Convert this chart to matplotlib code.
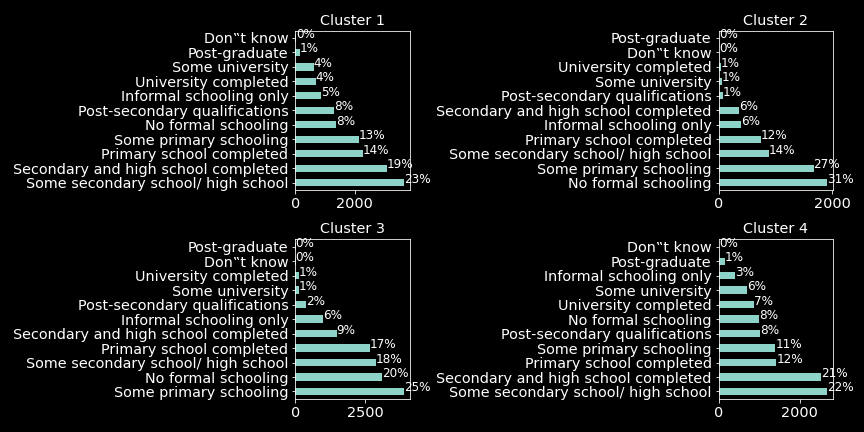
import matplotlib
matplotlib.use("Agg")
import matplotlib.pyplot as plt

plt.style.use("dark_background")
plt.rcParams["font.family"] = "DejaVu Sans"

DK = "Don\u201ft know"

# categories per cluster, in value_counts order (largest first)
cats_1 = ["Some secondary school/ high school", "Secondary and high school completed",
          "Primary school completed", "Some primary schooling", "No formal schooling",
          "Post-secondary qualifications", "Informal schooling only",
          "University completed", "Some university", "Post-graduate", DK]
counts_1 = [3687, 3100, 2270, 2136, 1360, 1293, 854, 686, 618, 146, 10]

cats_2 = ["No formal schooling", "Some primary schooling", "Some secondary school/ high school",
          "Primary school completed", "Informal schooling only",
          "Secondary and high school completed", "Post-secondary qualifications",
          "Some university", "University completed", DK, "Post-graduate"]
counts_2 = [1915, 1670, 885, 740, 390, 355, 80, 60, 38, 6, 4]

cats_3 = ["Some primary schooling", "No formal schooling", "Some secondary school/ high school",
          "Primary school completed", "Secondary and high school completed",
          "Informal schooling only", "Post-secondary qualifications",
          "Some university", "University completed", DK, "Post-graduate"]
counts_3 = [3903, 3118, 2868, 2654, 1476, 976, 369, 119, 115, 8, 6]

cats_4 = ["Some secondary school/ high school", "Secondary and high school completed",
          "Primary school completed", "Some primary schooling", "Post-secondary qualifications",
          "No formal schooling", "University completed", "Some university",
          "Informal schooling only", "Post-graduate", DK]
counts_4 = [2685, 2536, 1421, 1396, 1024, 1000, 876, 702, 405, 157, 5]

clusters = [(cats_1, counts_1), (cats_2, counts_2), (cats_3, counts_3), (cats_4, counts_4)]

fig, axes = plt.subplots(2, 2, figsize=(12, 6), dpi=72)
fig.subplots_adjust(left=0.342, right=0.964, top=0.929, bottom=0.077,
                    wspace=2.70, hspace=0.31)

for k, (ax, (cats, counts)) in enumerate(zip(axes.flat, clusters)):
    y = range(len(cats))
    ax.barh(y, counts, height=0.5, color="#8dd3c7")
    ax.set_yticks(list(y))
    ax.set_yticklabels(cats)
    ax.set_ylim(-0.5, len(cats) - 0.5)
    ax.set_xlim(0, max(counts) * 1.05)
    ax.tick_params(labelsize=14.4)
    ax.set_title(f"Cluster {k + 1}", fontsize=14.4)
    total = sum(counts)
    for i, c in enumerate(counts):
        ax.text(c, i, f"{round(c / total * 100)}%", fontsize=12)

fig.savefig("out.png", dpi=72)
